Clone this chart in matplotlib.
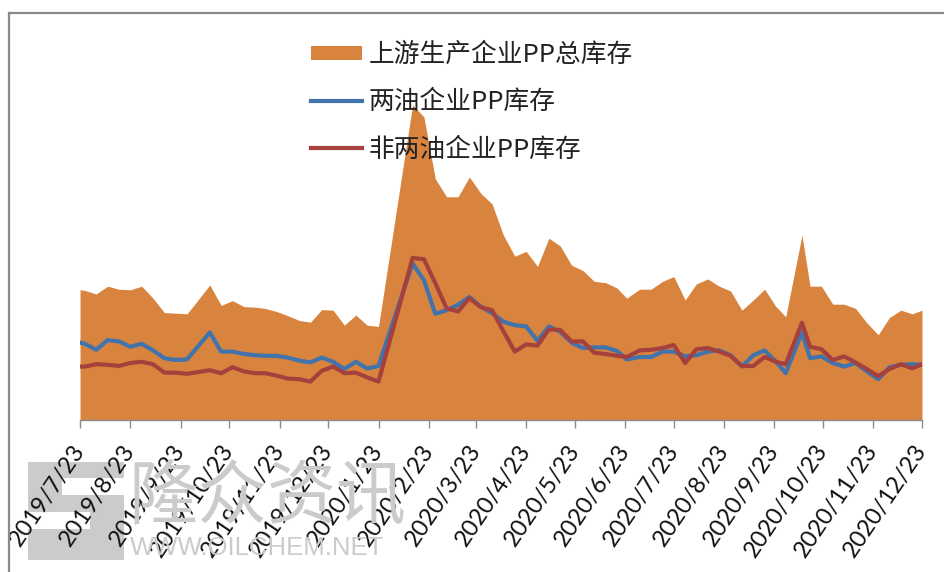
import matplotlib
matplotlib.use("Agg")
import matplotlib.pyplot as plt
from matplotlib.patches import Rectangle
from matplotlib.lines import Line2D
import pandas as pd

# weekly inventory (units unreadable on the chart, values in 万吨-like scale)
dates = [
    "2019-07-23", "2019-07-26", "2019-08-02", "2019-08-09", "2019-08-16", "2019-08-23",
    "2019-08-30", "2019-09-06", "2019-09-13", "2019-09-20", "2019-09-27", "2019-10-11",
    "2019-10-18", "2019-10-25", "2019-11-01", "2019-11-08", "2019-11-14", "2019-11-21",
    "2019-11-28", "2019-12-05", "2019-12-12", "2019-12-19", "2019-12-26", "2020-01-02",
    "2020-01-09", "2020-01-16", "2020-01-23", "2020-02-13", "2020-02-20", "2020-02-27",
    "2020-03-05", "2020-03-12", "2020-03-19", "2020-03-26", "2020-04-02", "2020-04-09",
    "2020-04-16", "2020-04-23", "2020-04-30", "2020-05-07", "2020-05-14", "2020-05-21",
    "2020-05-28", "2020-06-04", "2020-06-11", "2020-06-18", "2020-06-24", "2020-07-02",
    "2020-07-09", "2020-07-16", "2020-07-23", "2020-07-30", "2020-08-06", "2020-08-13",
    "2020-08-20", "2020-08-27", "2020-09-03", "2020-09-10", "2020-09-17", "2020-09-24",
    "2020-09-30", "2020-10-10", "2020-10-15", "2020-10-22", "2020-10-29", "2020-11-05",
    "2020-11-12", "2020-11-19", "2020-11-26", "2020-12-03", "2020-12-10", "2020-12-17",
    "2020-12-23",
]

total_stock = [
    21.7, 21.6, 21.0, 22.3, 21.8, 21.7, 22.3, 20.3, 17.9, 17.8, 17.7, 22.5,
    19.1, 19.9, 18.9, 18.8, 18.6, 18.1, 17.4, 16.6, 16.3, 18.4, 18.3, 15.8,
    17.5, 15.8, 15.6, 52.5, 50.5, 40.2, 37.2, 37.2, 40.5, 37.8, 36.0, 30.8,
    27.3, 28.1, 25.6, 30.3, 29.0, 25.8, 24.9, 23.1, 22.9, 22.0, 20.3, 21.8,
    21.8, 23.1, 23.9, 20.0, 22.7, 23.5, 22.3, 21.5, 18.3, 20.0, 21.8, 18.9,
    17.2, 30.8, 22.3, 22.3, 19.3, 19.3, 18.6, 16.2, 14.2, 17.1, 18.3, 17.7,
    18.3,
]

two_oil = [
    12.9, 12.7, 11.7, 13.3, 13.1, 12.2, 12.7, 11.6, 10.3, 10.0, 10.1, 14.6,
    11.4, 11.4, 11.0, 10.8, 10.7, 10.7, 10.4, 9.9, 9.6, 10.4, 9.7, 8.5,
    9.7, 8.6, 9.0, 26.1, 23.3, 17.7, 18.3, 19.2, 20.5, 18.9, 17.8, 16.4,
    15.8, 15.6, 13.2, 15.6, 14.7, 12.9, 12.0, 12.1, 12.1, 11.5, 10.1, 10.5,
    10.5, 11.4, 11.4, 10.6, 10.8, 11.4, 11.6, 10.8, 8.9, 10.8, 11.6, 9.7,
    7.8, 14.6, 10.3, 10.6, 9.5, 8.9, 9.5, 8.1, 6.8, 8.8, 9.2, 9.3,
    9.2,
]

non_two_oil = [
    8.9, 8.9, 9.3, 9.2, 9.0, 9.5, 9.7, 9.3, 7.9, 7.9, 7.7, 8.3,
    7.8, 8.8, 8.1, 7.8, 7.8, 7.4, 6.9, 6.8, 6.4, 8.2, 8.9, 7.8,
    7.9, 7.1, 6.4, 27.0, 26.8, 22.8, 18.6, 18.1, 20.3, 18.8, 18.3, 14.8,
    11.4, 12.6, 12.4, 15.1, 15.0, 13.1, 13.1, 11.2, 11.0, 10.7, 10.5, 11.6,
    11.7, 12.0, 12.5, 9.5, 11.8, 12.0, 11.4, 10.7, 9.0, 9.0, 10.5, 9.7,
    9.3, 16.2, 12.2, 11.8, 10.0, 10.6, 9.6, 8.5, 7.3, 8.5, 9.3, 8.6,
    9.3,
]

series_names = ["上游生产企业PP总库存", "两油企业PP库存", "非两油企业PP库存"]

tick_dates = [
    "2019-07-23", "2019-08-23", "2019-09-23", "2019-10-23", "2019-11-23", "2019-12-23",
    "2020-01-23", "2020-02-23", "2020-03-23", "2020-04-23", "2020-05-23", "2020-06-23",
    "2020-07-23", "2020-08-23", "2020-09-23", "2020-10-23", "2020-11-23", "2020-12-23",
]

x = pd.to_datetime(dates)
ticks = pd.to_datetime(tick_dates)
tick_labels = [f"{d.year}/{d.month}/{d.day}" for d in ticks]

W, H = 944, 572
fig = plt.figure(figsize=(W / 100, H / 100), dpi=100)
ax = fig.add_axes([80 / W, 1 - 420 / H, (922 - 80) / W, (420 - 30) / H])


def fx(px):
    return px / W


def fy(py):
    return 1 - py / H


# watermark
wm = "#cbcbcb"
fig.add_artist(Rectangle((fx(28), fy(560)), fx(96), 98 / H, color=wm, lw=0, zorder=0))
fig.add_artist(Rectangle((fx(62), fy(495)), fx(62), 17 / H, color="white", lw=0, zorder=0))
fig.add_artist(Rectangle((fx(28), fy(529)), fx(62), 17 / H, color="white", lw=0, zorder=0))
fig.text(fx(128), fy(498), "隆众资讯", fontsize=50, color=wm, va="center", ha="left",
         family=["Noto Sans CJK SC", "DejaVu Sans"], zorder=0)
fig.text(fx(130), fy(548), "WWW.OILCHEM.NET", fontsize=18.5, color=wm, va="center", ha="left",
         family=["Liberation Sans Narrow", "Liberation Sans", "DejaVu Sans"], zorder=0)

ax.patch.set_alpha(0)
ax.fill_between(x, 0, total_stock, color="#D9843E", lw=0, label=series_names[0], zorder=1)
ax.plot(x, two_oil, color="#4173AD", lw=3, label=series_names[1], zorder=2)
ax.plot(x, non_two_oil, color="#A6403D", lw=3, label=series_names[2], zorder=3)

ax.set_xlim(ticks[0], ticks[-1])
ax.set_ylim(0, 65)
ax.set_xticks(ticks)
ax.set_xticklabels(tick_labels, rotation=56, ha="right", va="center",
                   rotation_mode="anchor", fontsize=17, family="Lato", color="#111111")
ax.tick_params(axis="x", direction="out", length=6, width=1, color="#8c8c8c", pad=13)
ax.set_yticks([])
for s in ["left", "right", "top"]:
    ax.spines[s].set_visible(False)
ax.spines["bottom"].set_color("#8c8c8c")
ax.spines["bottom"].set_linewidth(1)

leg = ax.legend(loc="upper left", bbox_to_anchor=(fx(311), fy(42)), bbox_transform=fig.transFigure,
                frameon=False, borderpad=0, borderaxespad=0, handlelength=2.0, handleheight=0.5,
                handletextpad=0.23, labelspacing=0.83,
                prop={"family": ["Noto Sans CJK SC", "DejaVu Sans"], "size": 18.5})
for t in leg.get_texts():
    t.set_color("#222222")

# outer chart frame (cropped on the right and bottom)
fig.add_artist(Line2D([fx(8.5), fx(8.5)], [0, fy(12.5)], color="#8a8a8a", lw=1.6))
fig.add_artist(Line2D([fx(8.5), 1], [fy(12.5), fy(12.5)], color="#8a8a8a", lw=1.6))

fig.savefig("out.png", dpi=100)
